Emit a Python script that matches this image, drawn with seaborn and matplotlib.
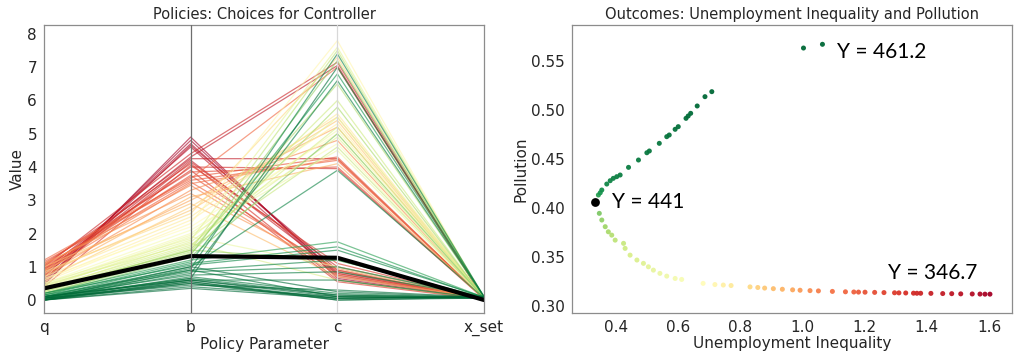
import numpy as np
import pandas as pd
import matplotlib
matplotlib.use("Agg")
import matplotlib.pyplot as plt
import seaborn as sns

# ---------------- data ----------------
params = ["q", "b", "c", "x_set"]

q = [0.45, 0.55, 0.6, 0.5, 0.7, 0.8, 0.9, 0.75, 1.0, 0.65, 0.85, 1.05, 0.95, 0.4, 1.1, 0.9,
     1.0, 1.15, 0.95, 1.2, 0.85, 1.05, 0.75, 1.1, 0.9, 0.7, 1.0, 0.8, 0.6, 0.85,
     0.7, 0.6, 0.55, 0.65, 0.5, 0.45, 0.4, 0.35, 0.5, 0.4, 0.3, 0.45, 0.35, 0.3, 0.25,
     0.3, 0.25, 0.2, 0.3, 0.2, 0.15,
     0.35,
     0.2, 0.15, 0.1, 0.2, 0.1, 0.05, 0.15, 0.1, 0.05, 0.1, 0.0, 0.05, 0.1, 0.0, 0.05,
     0.0, 0.1, 0.05, 0.0, 0.05, 0.0, 0.1, 0.0, 0.05, 0.0]
b = [4.9, 4.8, 4.7, 4.65, 4.6, 4.3, 4.25, 4.2, 4.4, 4.15, 4.0, 4.1, 3.9, 4.05, 3.85, 3.75,
     3.7, 3.6, 3.55, 3.65, 3.5, 3.45, 3.3, 3.2, 3.0, 3.1, 2.9, 2.7, 2.8, 2.6,
     2.5, 2.4, 2.3, 2.2, 2.1, 2.0, 1.95, 1.9, 1.85, 1.8, 1.75, 1.7, 1.65, 1.6, 1.55,
     1.5, 1.45, 1.4, 1.5, 1.35, 1.3,
     1.32,
     1.2, 1.15, 1.1, 1.05, 1.0, 0.95, 0.9, 0.85, 0.8, 0.75, 0.7, 0.65, 0.6, 0.9, 0.55,
     0.5, 0.65, 0.45, 0.4, 1.0, 0.35, 0.6, 0.55, 0.5, 0.6]
c = [0.65, 0.75, 0.8, 0.9, 0.7, 7.05, 4.25, 0.85, 7.15, 1.0, 3.95, 0.6, 0.55, 1.1, 4.0, 0.8,
     4.3, 4.2, 0.9, 7.0, 4.25, 0.75, 4.8, 0.95, 5.2, 4.1, 0.7, 5.4, 5.5, 7.3,
     5.6, 5.3, 7.8, 5.0, 4.7, 5.1, 4.5, 1.0, 5.5, 7.6, 4.9, 0.6, 5.2, 6.0, 4.6,
     7.5, 6.5, 5.8, 1.2, 7.2, 5.0,
     1.27,
     1.75, 6.8, 1.6, 1.5, 3.9, 7.4, 1.2, 1.0, 6.6, 0.85, 0.2, 0.15, 0.6, 0.1, 0.05,
     0.0, 7.0, 0.3, 0.1, 0.25, 0.05, 0.15, 0.0, 0.05, 0.1]
x_set = [0.03, 0.02, 0.04, 0.03, 0.05, 0.02, 0.04, 0.03, 0.02, 0.05, 0.03, 0.04, 0.02, 0.03, 0.05, 0.04,
         0.03, 0.05, 0.02, 0.04, 0.03, 0.05, 0.04, 0.02, 0.06, 0.03, 0.05, 0.04, 0.06, 0.03,
         0.05, 0.07, 0.04, 0.06, 0.05, 0.08, 0.04, 0.06, 0.05, 0.07, 0.06, 0.04, 0.08, 0.05, 0.07,
         0.06, 0.08, 0.05, 0.07, 0.09, 0.06,
         0.0,
         0.08, 0.1, 0.07, 0.09, 0.06, 0.1, 0.08, 0.07, 0.09, 0.1, 0.06, 0.08, 0.05, 0.07, 0.09,
         0.06, 0.1, 0.08, 0.05, 0.07, 0.09, 0.06, 0.08, 0.1, 0.07]

unemp_ineq = [1.603, 1.587, 1.571, 1.546, 1.509, 1.480, 1.451, 1.413, 1.380, 1.368, 1.357, 1.332,
              1.310, 1.296, 1.262, 1.232, 1.201, 1.180, 1.165, 1.138, 1.096, 1.051, 1.024, 0.992,
              0.968, 0.935, 0.906, 0.878, 0.856, 0.831, 0.770, 0.745, 0.718, 0.680, 0.611, 0.590,
              0.563, 0.541, 0.520, 0.504, 0.488, 0.467, 0.445, 0.429, 0.424, 0.397, 0.386, 0.375,
              0.365, 0.354, 0.346,
              0.333,
              0.343, 0.349, 0.354, 0.370, 0.381, 0.391, 0.402, 0.413, 0.440, 0.472, 0.499, 0.507,
              0.539, 0.563, 0.571, 0.590, 0.600, 0.625, 0.632, 0.640, 0.661, 0.686, 0.708, 1.003, 1.064]
pollution = [0.3122, 0.3122, 0.3123, 0.3124, 0.3125, 0.3127, 0.3128, 0.3130, 0.3131, 0.3131, 0.3132,
             0.3134, 0.3135, 0.3136, 0.3138, 0.3140, 0.3142, 0.3143, 0.3144, 0.3146, 0.3150, 0.3155,
             0.3158, 0.3162, 0.3166, 0.3172, 0.3178, 0.3184, 0.3190, 0.3196, 0.3210, 0.3215, 0.3220,
             0.3232, 0.3272, 0.3282, 0.3306, 0.3334, 0.3367, 0.3401, 0.3436, 0.3470, 0.3520, 0.3589,
             0.3640, 0.3673, 0.3724, 0.3758, 0.3810, 0.3878, 0.3946,
             0.4064,
             0.4133, 0.4156, 0.4184, 0.4245, 0.4279, 0.4303, 0.4320, 0.4337, 0.4415, 0.4490, 0.4564,
             0.4582, 0.4660, 0.4728, 0.4745, 0.4803, 0.4830, 0.4915, 0.4939, 0.4966, 0.5041, 0.5136,
             0.5187, 0.5632, 0.5670]
Y = [346.7, 347.8, 349.0, 350.1, 351.3, 352.4, 353.6, 354.7, 355.9, 356.4, 357.0, 358.2, 359.3,
     360.4, 361.6, 363.9, 365.0, 366.2, 367.3, 368.5, 370.7, 373.0, 375.3, 377.6, 379.9, 382.2,
     384.5, 386.8, 389.1, 391.4, 395.9, 398.2, 400.5, 402.8, 406.2, 407.4, 408.5, 409.7, 410.8,
     412.0, 413.1, 414.3, 415.4, 417.7, 418.8, 421.1, 423.4, 425.7, 428.0, 430.3, 433.7,
     441.0,
     447.0, 450.0, 452.0, 454.0, 454.4, 454.8, 455.2, 455.6, 456.0, 456.4, 456.8, 457.2, 457.6,
     458.0, 458.4, 458.8, 459.2, 459.6, 460.0, 460.3, 460.6, 460.8, 461.0, 461.1, 461.2]

chosen = 51          # index of the highlighted policy (Y = 441)
labels = [(1.064, 0.5670, "Y = 461.2"), (0.333, 0.4064, "Y = 441"), (1.603, 0.3122, "Y = 346.7")]

# ---------------- frames ----------------
pol = pd.DataFrame({"id": range(len(Y)), "Y": Y, "q": q, "b": b, "c": c, "x_set": x_set})
long = pol.melt(id_vars=["id", "Y"], value_vars=params, var_name="Policy Parameter", value_name="Value")
long["pos"] = long["Policy Parameter"].map({p: i for i, p in enumerate(params)})
long = long.sort_values(["id", "pos"])
others = long[long["id"] != chosen]
best = long[long["id"] == chosen]

out = pd.DataFrame({"Unemployment Inequality": unemp_ineq, "Pollution": pollution, "Y": Y})

sns.set_style("white")
plt.rcParams["font.family"] = ["DejaVu Sans"]
edge = "#8c8c8c"
txt = "#262626"
plt.rcParams.update({"axes.edgecolor": edge, "text.color": txt, "axes.labelcolor": txt,
                     "xtick.color": txt, "ytick.color": txt})

fig = plt.figure(figsize=(10.21, 3.60), dpi=100)
ax1 = fig.add_axes([0.0431, 0.1306, 0.431, 0.80])
ax2 = fig.add_axes([0.5602, 0.1306, 0.431, 0.80])

norm = (346.7, 461.2)

# ---- left: parallel coordinates ----
sns.lineplot(data=others, x="pos", y="Value", hue="Y", units="id", estimator=None,
             palette="RdYlGn", hue_norm=norm, sort=False, lw=0.9, alpha=0.62,
             legend=False, ax=ax1)
sns.lineplot(data=best, x="pos", y="Value", units="id", estimator=None, sort=False,
             color="black", lw=3.0, legend=False, ax=ax1)
ax1.axvline(1, color="#6e6e6e", lw=0.9, zorder=3)
ax1.axvline(2, color="#d8d8d8", lw=0.9, zorder=3)
ax1.set_xlim(0, 3)
ax1.set_ylim(-0.39, 8.27)
ax1.set_xticks(range(len(params)))
ax1.set_xticklabels(params)
ax1.set_yticks(range(0, 9))
ax1.set_xlabel("Policy Parameter", fontsize=11, labelpad=1)
ax1.set_ylabel("Value", fontsize=11, labelpad=2)
ax1.set_title("Policies: Choices for Controller", fontsize=10.5, pad=4)
ax1.tick_params(axis="both", labelsize=11, length=3, width=0.8, color=edge, pad=2)

# ---- right: outcomes ----
sns.scatterplot(data=out.drop(index=chosen), x="Unemployment Inequality", y="Pollution",
                hue="Y", palette="RdYlGn", hue_norm=norm, s=13, alpha=0.95,
                linewidth=0, legend=False, ax=ax2)
sns.scatterplot(data=out.loc[[chosen]], x="Unemployment Inequality", y="Pollution",
                color="black", s=40, linewidth=0, legend=False, ax=ax2)
offsets = [(0.046, -0.008), (0.053, 0.0), (-0.327, 0.022)]
for (x0, y0, s), (dx, dy) in zip(labels, offsets):
    ax2.text(x0 + dx, y0 + dy, s, fontsize=15, family="Lato", color="black",
             ha="left", va="center")
ax2.set_xlim(0.258, 1.674)
ax2.set_ylim(0.293, 0.5867)
ax2.set_xticks([0.4, 0.6, 0.8, 1.0, 1.2, 1.4, 1.6])
ax2.set_yticks([0.30, 0.35, 0.40, 0.45, 0.50, 0.55])
ax2.set_xlabel("Unemployment Inequality", fontsize=11, labelpad=1)
ax2.set_ylabel("Pollution", fontsize=11, labelpad=2)
ax2.set_title("Outcomes: Unemployment Inequality and Pollution", fontsize=10.5, pad=4)
ax2.tick_params(axis="both", labelsize=11, length=3, width=0.8, color=edge, pad=2)

for ax in (ax1, ax2):
    for sp in ax.spines.values():
        sp.set_color(edge)
        sp.set_linewidth(0.9)

fig.savefig("out.png", dpi=100)
